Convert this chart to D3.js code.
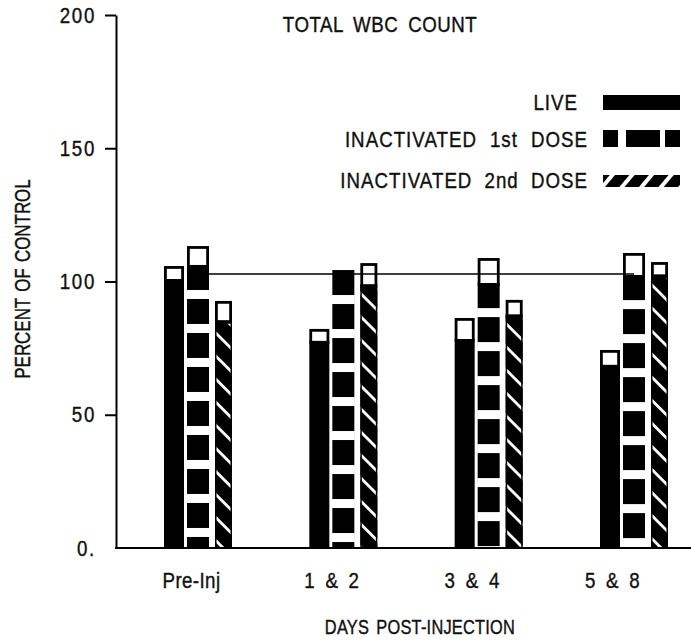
<!DOCTYPE html>
<html>
<head>
<meta charset="utf-8">
<script src="https://cdn.jsdelivr.net/npm/d3@7"></script>
<style>
  body { margin: 0; background: #fff; }
  text { font-family: 'Liberation Sans', Arial, sans-serif; fill: #111; stroke: #111; stroke-width: 0.4px; }
</style>
</head>
<body>
<svg id="chart" width="691" height="644"></svg>
<script>
const groups = ["Pre-Inj", "1 & 2", "3 & 4", "5 & 8"];
const seriesNames = ["LIVE", "INACTIVATED 1st DOSE", "INACTIVATED 2nd DOSE"];
const liveMean = [100.9, 77.7, 78.4, 68.7];
const liveErr = [4.9, 4.5, 7.9, 5.6];
const dose1Mean = [106.2, 104.3, 99.4, 102.4];
const dose1Err = [7.1, 0, 9.4, 8.3];
const dose2Mean = [85.2, 98.7, 87.4, 102.4];
const dose2Err = [7.5, 8.2, 5.7, 4.9];
const controlLevel = 102.8;
const yTicks = [0, 50, 100, 150, 200];

const svg = d3.select("#chart");
const defs = svg.append("defs");
const SX = 0.85; // squeeze to fake the condensed face of the original

// put a horizontally squeezed label
function label(x, y, str, o) {
  return svg.append("text")
      .attr("transform", `translate(${x},${y})${o.rot ? " rotate(-90)" : ""} scale(${o.sx || SX},1)`)
      .attr("text-anchor", o.anchor || "start")
      .attr("font-size", o.size || 22)
      .attr("letter-spacing", o.ls || 0)
      .attr("word-spacing", o.ws || 0)
      .text(str);
}

// diagonal hatch for the 2nd dose bars
const hatch = defs.append("pattern")
    .attr("id", "hatch")
    .attr("patternUnits", "userSpaceOnUse")
    .attr("width", 16.3).attr("height", 16.3)
    .attr("patternTransform", "rotate(45)");
hatch.append("rect").attr("width", 16.3).attr("height", 16.3).attr("fill", "#000");
hatch.append("rect").attr("width", 16.3).attr("height", 2.8).attr("fill", "#fff");

// hatch for legend swatch (leans the other way)
const hatchL = defs.append("pattern")
    .attr("id", "hatchL")
    .attr("patternUnits", "userSpaceOnUse")
    .attr("width", 15).attr("height", 15)
    .attr("patternTransform", "translate(600,0) rotate(-50)");
hatchL.append("rect").attr("width", 15).attr("height", 15).attr("fill", "#000");
hatchL.append("rect").attr("width", 15).attr("height", 4).attr("fill", "#fff");

const y = d3.scaleLinear().domain([0, 200]).range([548, 15]);
const xBar = d3.scalePoint().domain(groups).range([198, 634]);
const xLab = d3.scalePoint().domain(groups).range([191, 612]);

const axisX = 116;

const series = [
  { name: seriesNames[0], mean: liveMean, err: liveErr, off: -34, w: 20 },
  { name: seriesNames[1], mean: dose1Mean, err: dose1Err, off: -11, w: 22 },
  { name: seriesNames[2], mean: dose2Mean, err: dose2Err, off: 17, w: 17 }
];

// control reference line, from the first to the last 1st-dose bar
const s1 = series[1];
svg.append("line")
    .attr("x1", xBar(groups[0]) + s1.off + s1.w / 2)
    .attr("x2", xBar(groups[3]) + s1.off + s1.w / 2)
    .attr("y1", y(controlLevel)).attr("y2", y(controlLevel))
    .attr("stroke", "#000").attr("stroke-width", 1.6);

const bars = svg.append("g");
series.forEach((s, si) => {
  groups.forEach((g, i) => {
    const x0 = xBar(g) + s.off;
    const top = y(s.mean[i]);
    const bottom = y(0);
    bars.append("rect")
        .attr("x", x0).attr("y", top)
        .attr("width", s.w).attr("height", bottom - top)
        .attr("fill", si === 2 ? "url(#hatch)" : "#000");
    if (si === 1) {
      for (let gy = top + 25; gy < bottom; gy += 34) {
        bars.append("rect")
            .attr("x", x0 - 0.5).attr("y", gy)
            .attr("width", s.w + 1).attr("height", Math.min(9, bottom - gy))
            .attr("fill", "#fff");
      }
    }
    if (si === 2) {
      bars.append("rect")
          .attr("x", x0 + 0.75).attr("y", top)
          .attr("width", s.w - 1.5).attr("height", bottom - top)
          .attr("fill", "none").attr("stroke", "#000").attr("stroke-width", 1.5);
    }
    // SEM box on top of the bar
    if (s.err[i] > 0.5) {
      const et = y(s.mean[i] + s.err[i]);
      bars.append("rect")
          .attr("x", x0 + 1.4).attr("y", et + 1.4)
          .attr("width", s.w - 2.8).attr("height", top - et)
          .attr("fill", "none").attr("stroke", "#000").attr("stroke-width", 2.8);
    }
  });
});

// y axis
const yAxis = svg.append("g")
    .attr("transform", `translate(${axisX},0)`)
    .call(d3.axisLeft(y).tickValues(yTicks).tickSize(11).tickSizeOuter(0).tickPadding(9)
      .tickFormat(d => d === 0 ? "0." : d));
yAxis.select(".domain").attr("stroke", "#000").attr("stroke-width", 2);
yAxis.selectAll(".tick line").attr("stroke", "#000").attr("stroke-width", 2)
    .filter(d => d === 0).remove();
yAxis.selectAll(".tick text")
    .attr("font-size", 22).attr("fill", "#111")
    .attr("font-family", "'Liberation Sans', Arial, sans-serif")
    .attr("letter-spacing", 2)
    .attr("x", -20 / SX)
    .attr("transform", `scale(${SX},1)`);

// baseline
svg.append("line")
    .attr("x1", axisX - 1).attr("x2", 691)
    .attr("y1", y(0)).attr("y2", y(0))
    .attr("stroke", "#000").attr("stroke-width", 2);

// x labels
const xAxis = svg.append("g")
    .attr("transform", `translate(0,${y(0)})`)
    .call(d3.axisBottom(xLab).tickSize(0).tickPadding(24));
xAxis.select(".domain").remove();
xAxis.selectAll(".tick text")
    .attr("font-size", 22).attr("fill", "#111")
    .attr("font-family", "'Liberation Sans', Arial, sans-serif")
    .attr("letter-spacing", 0.5).attr("word-spacing", 5.5)
    .attr("transform", `scale(${SX},1)`);

// titles
label(380, 32, "TOTAL WBC COUNT", { anchor: "middle", ls: 0.6, ws: 5 });
label(420, 634, "DAYS POST-INJECTION", { anchor: "middle", size: 21, sx: 0.78, ls: 0.3, ws: 3 });
label(30, 279, "PERCENT OF CONTROL", { anchor: "middle", rot: true, sx: 0.77, ws: 2 });

// legend
label(578, 110, seriesNames[0], { anchor: "end", ls: 1.2 });
label(588, 147, seriesNames[1], { anchor: "end", ls: 1.2, ws: 8 });
label(588, 188, seriesNames[2], { anchor: "end", ls: 1.2, ws: 7 });

const legend = svg.append("g");
legend.append("rect").attr("x", 603).attr("y", 95).attr("width", 77).attr("height", 15).attr("fill", "#000");

legend.append("rect").attr("x", 603).attr("y", 130).attr("width", 77).attr("height", 17).attr("fill", "#000");
[[618, 8], [660, 5]].forEach(([gx, gw]) =>
  legend.append("rect").attr("x", gx).attr("y", 129).attr("width", gw).attr("height", 19).attr("fill", "#fff"));

legend.append("rect").attr("x", 603).attr("y", 175).attr("width", 77).attr("height", 12).attr("fill", "url(#hatchL)");
</script>
</body>
</html>
